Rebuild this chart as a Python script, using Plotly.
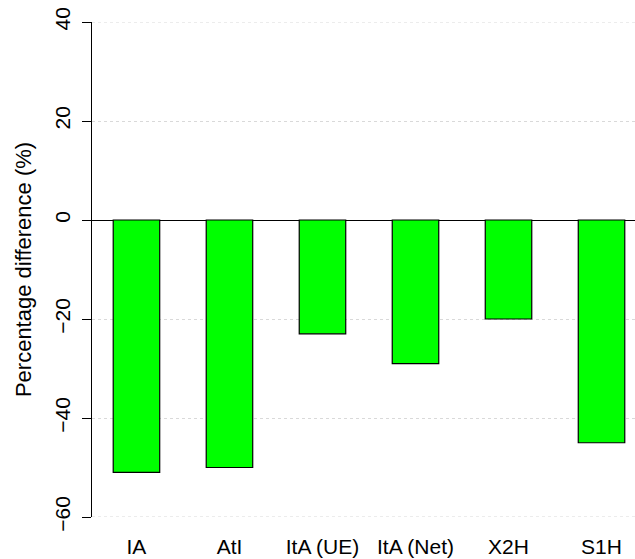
import plotly.graph_objects as go

# Percentage difference per configuration
categories = ["IA", "AtI", "ItA (UE)", "ItA (Net)", "X2H", "S1H"]
pct_diff = [-51, -50, -23, -29, -20, -45]
y_ticks = [-60, -40, -20, 0, 20, 40]

W, H = 635, 559
left, right, top, bottom = 92, 0, 22, 42

fig = go.Figure(
    go.Bar(
        x=categories,
        y=pct_diff,
        width=0.5,
        marker=dict(color="#00FF00", line=dict(color="black", width=1.2)),
    )
)

font = "Liberation Sans, Arial, sans-serif"
grid_color = "#d9d9d9"

# dotted guides at the range limits (plotly skips gridlines on the plot edge)
for v in (y_ticks[0], y_ticks[-1]):
    fig.add_shape(
        type="line", xref="paper", yref="y", x0=0, x1=1, y0=v, y1=v,
        line=dict(color=grid_color, width=1, dash="dot"), layer="below",
    )

fig.update_layout(
    width=W,
    height=H,
    margin=dict(l=left, r=right, t=top, b=bottom),
    paper_bgcolor="white",
    plot_bgcolor="white",
    showlegend=False,
    font=dict(family=font, size=21, color="black"),
    xaxis=dict(
        type="category",
        range=[-0.478, 5.36],
        showline=False,
        showgrid=False,
        ticks="",
        ticklabelstandoff=15,
        tickfont=dict(size=21),
        zeroline=False,
    ),
    yaxis=dict(
        range=[-60, 40],
        tickvals=y_ticks,
        ticktext=[str(v).replace("-", "\u2212") for v in y_ticks],
        tickangle=-90,
        ticks="outside",
        ticklen=9,
        tickwidth=1.2,
        tickcolor="black",
        showline=True,
        linecolor="black",
        linewidth=1.2,
        showgrid=True,
        gridcolor=grid_color,
        griddash="dot",
        gridwidth=1,
        zeroline=True,
        zerolinecolor="black",
        zerolinewidth=1.2,
        ticklabelstandoff=4,
        tickfont=dict(size=21),
        title=dict(text="Percentage difference (%)", font=dict(size=22), standoff=12),
    ),
)

fig.write_html("out.html")
